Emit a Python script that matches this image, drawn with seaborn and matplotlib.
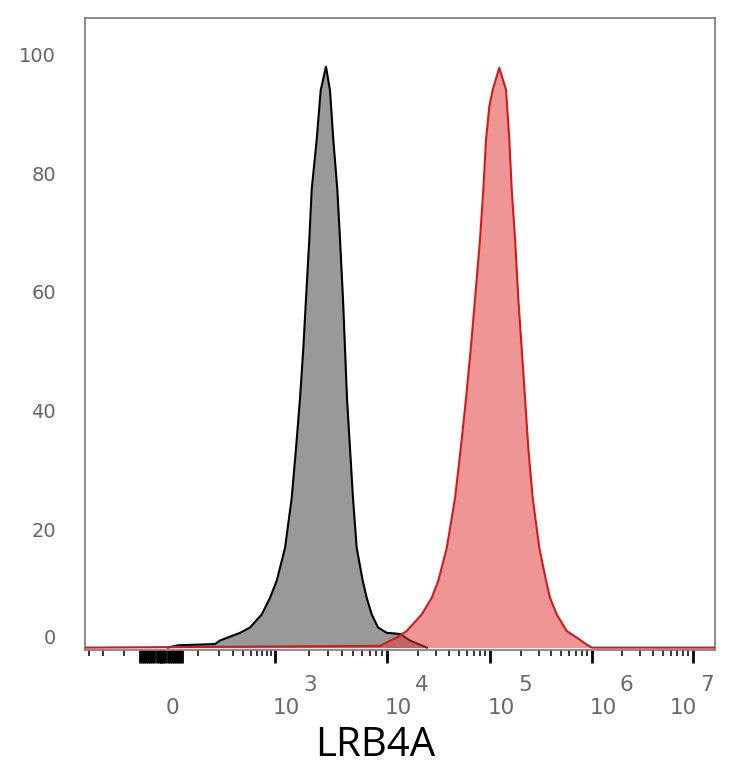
import numpy as np
import pandas as pd
import matplotlib
matplotlib.use('Agg')
import matplotlib.pyplot as plt
from matplotlib.ticker import FixedLocator, NullFormatter
import seaborn as sns

# unstained control histogram (% of max) - x is fluorescence intensity
ctrl_x = [15, 40, 175, 204, 369, 491, 686, 868, 1036, 1228,
          1409, 1540, 1672, 1789, 1891, 2025, 2127, 2357, 2559, 2853,
          3097, 3315, 3600, 3805, 4047, 4217, 4395, 4673, 4970, 5364,
          6067, 6589, 7302, 8312, 9935, 13370, 16720, 24440]
ctrl_y = [0, 0.4, 0.6, 1.2, 2.5, 3.4, 5.6, 8.4, 11.3, 16.8,
          25.2, 33.6, 42, 50.4, 58.8, 68.9, 77.3, 85.7, 94, 98,
          94, 85.7, 77.3, 68.9, 58.8, 50.4, 42, 33.6, 25.2, 16.8,
          11.3, 8.4, 5.6, 3.4, 2.5, 2.3, 1.2, 0]

# LRB4A stained histogram
lrb_x = [-340, 8660, 12420, 15520, 21720, 27170, 31490, 38000, 45730, 51970,
         58480, 64990, 71500, 79980, 86100, 91450, 98450, 106300, 123300, 143400,
         154600, 163100, 175900, 189400, 204500, 220500, 237400, 262200, 304300, 354000,
         387500, 450700, 565000, 708000, 887000, 1000000, 1.7e7]
lrb_y = [0, 0.3, 1.7, 2.8, 5.6, 8.4, 11.3, 16.8, 25.2, 33.6,
         42, 50.4, 58.8, 68.9, 77.3, 85.7, 91.3, 94.1, 97.8, 94.1,
         85.7, 77.3, 68.9, 58.8, 50.4, 42, 33.6, 25.2, 16.8, 11.3,
         8.4, 5.6, 2.8, 1.7, 0.5, 0, 0]

xtick_vals = [0, 1e3, 1e4, 1e5, 1e6, 1e7]
xtick_base = ['0', '10', '10', '10', '10', '10']
xtick_exp = ['', '3', '4', '5', '6', '7']
ytick_vals = [0, 20, 40, 60, 80, 100]
x_title = 'LRB4A'

# biexponential-like display scale (flow cytometry style axis)
A = 80.0
SCALE_VALS = np.array([0, 1e3, 1e4, 1e5, 1e6, 1e7, 1e9])
SCALE_POS = np.array([0, 114, 226, 329, 431, 532, 734])
S_ANCH = np.arcsinh(SCALE_VALS / A)


def fwd(x):
    x = np.asarray(x, dtype=float)
    return np.sign(x) * np.interp(np.arcsinh(np.abs(x) / A), S_ANCH, SCALE_POS)


def inv(y):
    y = np.asarray(y, dtype=float)
    return np.sign(y) * A * np.sinh(np.interp(np.abs(y), SCALE_POS, S_ANCH))


sns.set_style('white')
plt.rcParams['font.family'] = ['DejaVu Sans']

df_ctrl = pd.DataFrame({'x': ctrl_x, 'y': ctrl_y})
df_lrb = pd.DataFrame({'x': lrb_x, 'y': lrb_y})

fig = plt.figure(figsize=(7.34, 7.68), dpi=100)
ax = fig.add_axes([85 / 734, 118 / 768, 630 / 734, 632 / 768])
ax.set_xscale('function', functions=(fwd, inv))

ax.fill_between(df_ctrl['x'], 0, df_ctrl['y'], color='#999999', lw=0, zorder=2)
sns.lineplot(data=df_ctrl, x='x', y='y', sort=False, estimator=None,
             color='black', lw=1.5, ax=ax, zorder=3)
ax.fill_between(df_lrb['x'], 0, df_lrb['y'], color='#e03838', alpha=0.53, lw=0, zorder=4)
sns.lineplot(data=df_lrb, x='x', y='y', sort=False, estimator=None,
             color='#d81818', lw=1.5, ax=ax, zorder=5)

ax.set_xlim(-338, 1.65e7)
ax.set_ylim(-0.4, 106.2)

# x ticks: decades + dense block around zero
block = [v for v in range(-50, 51, 5)]
ax.xaxis.set_major_locator(FixedLocator(xtick_vals + block))
minor = [m * 10 ** k for k in range(2, 7) for m in range(2, 10)] + [100, -100, -200, -300]
ax.xaxis.set_minor_locator(FixedLocator(minor))
ax.xaxis.set_major_formatter(NullFormatter())
ax.xaxis.set_minor_formatter(NullFormatter())
ax.tick_params(axis='x', which='major', direction='out', length=9.5, width=2.0, color='black', bottom=True)
ax.tick_params(axis='x', which='minor', direction='out', length=4.5, width=1.1, color='black', bottom=True)

for i, (v, b, e) in enumerate(zip(xtick_vals, xtick_base, xtick_exp)):
    shift = -15 if i == len(xtick_vals) - 1 else 0
    ax.annotate(b, xy=(v, 0), xycoords=('data', 'axes fraction'),
                xytext=(8 + shift, -42), textcoords='offset points',
                ha='center', va='center', fontsize=15.5, color='#6a6a6a')
    if e:
        ax.annotate(e, xy=(v, 0), xycoords=('data', 'axes fraction'),
                    xytext=(25 + shift, -25), textcoords='offset points',
                    ha='center', va='center', fontsize=15.5, color='#6a6a6a')

ax.set_yticks(ytick_vals)
ax.set_yticklabels([str(v) for v in ytick_vals])
ax.tick_params(axis='y', length=0, pad=21, labelsize=14, labelcolor='#666666')
ax.get_yticklabels()[0].set_verticalalignment('bottom')

ax.set_xlabel(x_title, fontsize=29, family=['Open Sans', 'DejaVu Sans'], color='black')
ax.xaxis.set_label_coords(0.46, -0.168)
ax.xaxis.label.set_verticalalignment('baseline')
ax.set_ylabel('')

for s in ax.spines.values():
    s.set_color('#7a7a7a')
    s.set_linewidth(1.2)

plt.savefig('out.png', dpi=100)
